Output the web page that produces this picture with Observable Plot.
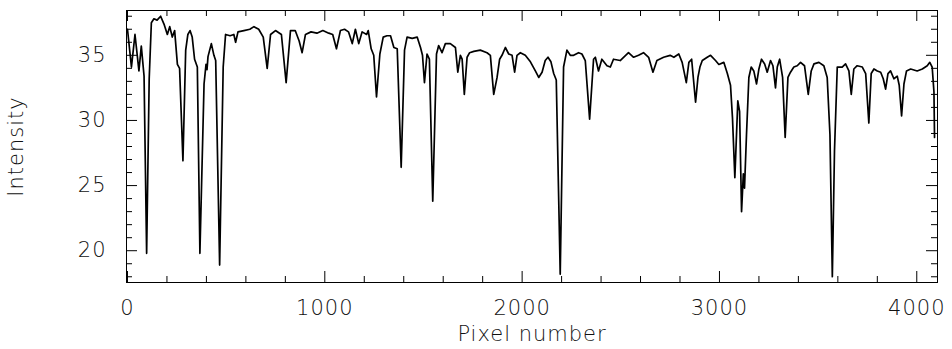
<!DOCTYPE html>
<html>
<head>
<meta charset="utf-8">
<script src="https://cdn.jsdelivr.net/npm/d3@7"></script>
<script src="https://cdn.jsdelivr.net/npm/@observablehq/plot@0.6"></script>
<style>
  html, body { margin: 0; padding: 0; background: #fff; }
  #chart svg { display: block; }
</style>
</head>
<body>
<div id="chart"></div>
<script>
// Spectrum: pixel number vs intensity
const pixel = [
  0, 20, 38, 58, 70, 84, 97, 110, 121, 134, 150, 168, 185, 202, 214, 227, 239, 253, 264, 281,
  295, 306, 317, 328, 340, 354, 367, 388, 398, 403, 408, 425, 438, 447, 467, 485, 497, 520, 539, 548,
  560, 590, 620, 641, 665, 688, 708, 725, 750, 780, 804, 826, 850, 870, 885, 902, 930, 960, 990, 1020,
  1040, 1059, 1079, 1100, 1120, 1139, 1155, 1172, 1189, 1212, 1220, 1235, 1248, 1262, 1279, 1296, 1315, 1333, 1350, 1367,
  1387, 1404, 1417, 1443, 1468, 1485, 1495, 1505, 1518, 1530, 1547, 1566, 1577, 1594, 1611, 1636, 1662, 1674, 1687, 1696,
  1707, 1721, 1734, 1755, 1788, 1822, 1839, 1856, 1873, 1886, 1898, 1915, 1932, 1949, 1962, 1974, 1991, 2016, 2042, 2067,
  2084, 2101, 2117, 2131, 2146, 2160, 2173, 2193, 2210, 2227, 2244, 2261, 2286, 2303, 2320, 2342, 2362, 2371, 2387, 2404,
  2430, 2447, 2463, 2497, 2539, 2565, 2590, 2615, 2641, 2663, 2683, 2717, 2750, 2769, 2794, 2811, 2832, 2845, 2859, 2879,
  2891, 2901, 2913, 2938, 2955, 2980, 2997, 3022, 3040, 3056, 3066, 3078, 3093, 3102, 3112, 3121, 3127, 3137, 3149, 3161,
  3174, 3188, 3200, 3213, 3229, 3242, 3259, 3271, 3284, 3293, 3305, 3320, 3333, 3347, 3360, 3377, 3394, 3411, 3431, 3450,
  3465, 3479, 3504, 3529, 3546, 3560, 3572, 3583, 3597, 3622, 3639, 3656, 3668, 3681, 3698, 3724, 3741, 3757, 3769, 3783,
  3800, 3817, 3830, 3842, 3854, 3867, 3884, 3901, 3911, 3923, 3935, 3948, 3969, 4002, 4028, 4053, 4066, 4078, 4087, 4090
];
const intensity = [
  37.0, 34.1, 36.6, 33.8, 35.7, 33.4, 19.8, 33.2, 37.5, 37.8, 37.7, 38.0, 37.4, 36.6, 37.2, 36.4, 36.9, 34.3, 34.0, 26.9,
  35.4, 36.6, 36.9, 36.4, 34.7, 34.1, 19.8, 32.8, 34.3, 33.9, 34.9, 35.9, 35.0, 34.6, 18.9, 34.1, 36.6, 36.5, 36.6, 36.0,
  36.8, 36.9, 37.0, 37.2, 37.0, 36.4, 34.0, 36.6, 36.9, 36.6, 32.9, 36.9, 36.9, 36.1, 35.2, 36.6, 36.8, 36.7, 36.9, 36.7,
  36.6, 35.5, 36.9, 37.0, 36.8, 35.9, 37.0, 35.9, 36.8, 36.6, 36.9, 35.5, 35.0, 31.8, 35.1, 36.4, 36.5, 36.5, 35.6, 35.5,
  26.4, 35.4, 36.4, 36.3, 36.4, 35.6, 35.0, 32.9, 35.1, 34.7, 23.8, 35.1, 35.75, 35.2, 35.9, 35.9, 35.6, 33.7, 35.0, 34.7,
  32.0, 34.85, 35.2, 35.3, 35.4, 35.2, 35.0, 32.0, 33.3, 34.7, 35.0, 35.6, 35.1, 35.0, 33.7, 35.0, 35.2, 35.0, 34.5, 33.8,
  33.3, 33.7, 34.6, 34.85, 34.5, 33.6, 33.1, 18.2, 34.1, 35.4, 35.0, 35.0, 35.2, 35.1, 34.6, 30.1, 34.7, 34.85, 33.8, 34.7,
  34.2, 34.1, 34.7, 34.6, 35.2, 34.85, 35.0, 35.2, 34.85, 33.7, 34.6, 34.85, 35.0, 34.85, 35.1, 34.46, 32.9, 34.46, 34.7, 31.4,
  33.3, 34.1, 34.6, 34.85, 35.0, 34.6, 34.3, 34.46, 33.6, 32.7, 30.2, 25.6, 31.5, 30.7, 23.0, 25.9, 24.8, 28.9, 33.3, 34.1,
  33.8, 32.8, 33.95, 34.7, 34.34, 33.7, 34.6, 34.2, 32.5, 34.1, 34.7, 33.3, 28.7, 33.3, 33.7, 34.1, 34.2, 34.46, 34.2, 32.0,
  33.8, 34.34, 34.46, 34.2, 33.3, 28.9, 18.0, 27.7, 34.1, 34.1, 34.34, 33.8, 32.0, 33.95, 34.2, 34.1, 33.6, 29.8, 33.6, 33.95,
  33.8, 33.7, 33.2, 32.4, 33.6, 33.8, 33.2, 33.4, 32.7, 30.35, 32.8, 33.8, 33.95, 33.8, 33.95, 34.2, 34.46, 34.1, 32.2, 28.7
];
const xMajorTicks = [0, 1000, 2000, 3000, 4000];
const xMinorTicks = [200, 400, 600, 800, 1200, 1400, 1600, 1800, 2200, 2400, 2600, 2800, 3200, 3400, 3600, 3800];
const yMajorTicks = [20, 25, 30, 35];
const yMinorTicks = [18, 19, 21, 22, 23, 24, 26, 27, 28, 29, 31, 32, 33, 34, 36, 37, 38];
const xLabel = "Pixel number";
const yLabel = "Intensity";

const data = pixel.map((p, i) => ({pixel: p, intensity: intensity[i]}));

const W = 952, H = 349;
const mL = 126, mR = 15, mT = 10, mB = 67;
const innerW = W - mL - mR, innerH = H - mT - mB;
const major = 11, minor = 6;

const chart = Plot.plot({
  width: W,
  height: H,
  marginLeft: mL,
  marginRight: mR,
  marginTop: mT,
  marginBottom: mB,
  style: {fontFamily: "'DejaVu Sans', sans-serif", fontSize: "21px", fontWeight: 200, color: "#111", letterSpacing: "1px", background: "#fff"},
  x: {domain: [-5, 4105]},
  y: {domain: [17.56, 38.44]},
  marks: [
    Plot.line(data, {x: "pixel", y: "intensity", stroke: "#000", strokeWidth: 1.7, strokeLinejoin: "round"}),
    // inward ticks on all four sides
    Plot.tickX(xMajorTicks, {x: d => d, stroke: "#000", insetTop: innerH - major}),
    Plot.tickX(xMajorTicks, {x: d => d, stroke: "#000", insetBottom: innerH - major}),
    Plot.tickX(xMinorTicks, {x: d => d, stroke: "#000", insetTop: innerH - minor}),
    Plot.tickX(xMinorTicks, {x: d => d, stroke: "#000", insetBottom: innerH - minor}),
    Plot.tickY(yMajorTicks, {y: d => d, stroke: "#000", insetRight: innerW - major}),
    Plot.tickY(yMajorTicks, {y: d => d, stroke: "#000", insetLeft: innerW - major}),
    Plot.tickY(yMinorTicks, {y: d => d, stroke: "#000", insetRight: innerW - minor}),
    Plot.tickY(yMinorTicks, {y: d => d, stroke: "#000", insetLeft: innerW - minor}),
    Plot.frame({stroke: "#000"}),
    Plot.axisX(xMajorTicks, {tickSize: 0, tickPadding: 18, tickFormat: d => String(d), label: null}),
    Plot.axisY(yMajorTicks, {tickSize: 0, tickPadding: 20, tickFormat: d => String(d), label: null}),
    Plot.text([xLabel], {frameAnchor: "bottom", dy: 58, textAnchor: "middle", text: d => d}),
    Plot.text([yLabel], {frameAnchor: "left", dx: -110, rotate: -90, textAnchor: "middle", text: d => d})
  ]
});
document.getElementById("chart").appendChild(chart);
</script>
</body>
</html>
